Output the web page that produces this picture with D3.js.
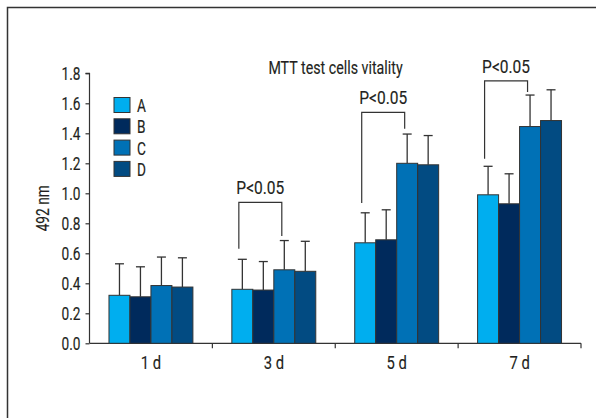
<!DOCTYPE html>
<html>
<head>
<meta charset="utf-8">
<script src="https://cdn.jsdelivr.net/npm/d3@7"></script>
<style>
  html, body { margin: 0; padding: 0; background: #fff; }
  svg text { font-family: Roboto, 'Open Sans', sans-serif; fill: #231f20; stroke: #231f20; stroke-width: 0.15px; }
</style>
</head>
<body>
<svg id="chart" width="596" height="418"></svg>
<script>
// MTT assay: optical density at 492 nm for four groups over 7 days
const days = ["1 d", "3 d", "5 d", "7 d"];
const groups = ["A", "B", "C", "D"];
const meanA = [0.32, 0.36, 0.67, 0.99];
const meanB = [0.31, 0.355, 0.69, 0.93];
const meanC = [0.385, 0.49, 1.20, 1.445];
const meanD = [0.375, 0.48, 1.19, 1.485];
const sdA = [0.21, 0.20, 0.20, 0.19];
const sdB = [0.20, 0.19, 0.20, 0.20];
const sdC = [0.19, 0.195, 0.195, 0.21];
const sdD = [0.195, 0.20, 0.195, 0.205];
const yTicks = [0, 0.2, 0.4, 0.6, 0.8, 1.0, 1.2, 1.4, 1.6, 1.8];
// significance brackets between A and C (day, top, left foot, right foot)
const sigDays = ["3 d", "5 d", "7 d"];
const sigTop = [0.94, 1.54, 1.75];
const sigLeftEnd = [0.63, 0.935, 1.23];
const sigRightEnd = [0.715, 1.43, 1.675];
const sigLabel = "P<0.05";

const colors = ["#00aeef", "#002a5c", "#0071b6", "#024b82"];
const means = [meanA, meanB, meanC, meanD];
const sds = [sdA, sdB, sdC, sdD];

const svg = d3.select("#chart");
const ink = "#333";
const FS = 18.5;
const SX = 0.74;

// narrow the glyphs horizontally, keeping the anchor point in place
function condense(sel, sx = SX) {
  sel.each(function () {
    const t = d3.select(this);
    const px = +t.attr("x") || 0, py = +t.attr("y") || 0;
    const prev = t.attr("transform") || "";
    t.attr("x", 0).attr("y", 0)
      .attr("transform", `${prev} translate(${px},${py}) scale(${sx},1)`);
  });
}

// frame
svg.append("path")
  .attr("d", "M7.5,418V7.5H596")
  .attr("fill", "none").attr("stroke", ink).attr("stroke-width", 1.5);

const x0 = 89.5, x1 = 581, yBase = 343.3, yTop = 73.3;
const x = d3.scaleBand().domain(days).range([x0, x1]).paddingInner(0.317).paddingOuter(0.1585);
const xs = d3.scaleBand().domain(groups).range([0, x.bandwidth()]);
const y = d3.scaleLinear().domain([0, 1.8]).range([yBase, yTop]);

// y axis
const yAxis = svg.append("g").attr("transform", `translate(${x0},0)`)
  .call(d3.axisLeft(y).tickValues(yTicks).tickFormat(d3.format(".1f")).tickSize(4).tickPadding(5));
yAxis.selectAll("path, line").attr("stroke", ink).attr("stroke-width", 1.2);
yAxis.selectAll("text").attr("font-size", FS).attr("fill", "#231f20")
  .style("font-family", "Roboto, 'Open Sans', sans-serif")
  .attr("dy", null).attr("y", 6.5);
condense(yAxis.selectAll("text"));
yAxis.select(".domain").attr("d", `M-4,${yTop}H0V${yBase}`);

condense(svg.append("text")
  .attr("x", 0).attr("y", 0)
  .attr("transform", `translate(48.5,${(yBase + yTop) / 2}) rotate(-90)`)
  .attr("text-anchor", "middle").attr("font-size", FS)
  .text("492 nm"));

// x axis: line with ticks on category boundaries
svg.append("line").attr("x1", x0).attr("x2", x1).attr("y1", yBase).attr("y2", yBase)
  .attr("stroke", ink).attr("stroke-width", 1.2);
svg.selectAll(".xb").data(days).join("line")
  .attr("x1", d => x(d) - x.step() * x.paddingOuter() + x.step())
  .attr("x2", d => x(d) - x.step() * x.paddingOuter() + x.step())
  .attr("y1", yBase).attr("y2", yBase + 5)
  .attr("stroke", ink).attr("stroke-width", 1.2);
condense(svg.selectAll(".xl").data(days).join("text")
  .attr("x", d => x(d) + x.bandwidth() / 2)
  .attr("y", yBase + 25.5)
  .attr("text-anchor", "middle").attr("font-size", FS)
  .text(d => d), 0.8);

// bars
const cells = [];
groups.forEach((g, gi) => days.forEach((d, di) => {
  cells.push({ g, gi, d, v: means[gi][di], sd: sds[gi][di] });
}));

const errs = svg.append("g");
errs.selectAll("line.v").data(cells).join("line")
  .attr("x1", c => x(c.d) + xs(c.g) + xs.bandwidth() / 2)
  .attr("x2", c => x(c.d) + xs(c.g) + xs.bandwidth() / 2)
  .attr("y1", c => y(c.v)).attr("y2", c => y(c.v + c.sd))
  .attr("stroke", ink).attr("stroke-width", 1.3);
errs.selectAll("line.c").data(cells).join("line")
  .attr("x1", c => x(c.d) + xs(c.g) + xs.bandwidth() / 2 - 4.5)
  .attr("x2", c => x(c.d) + xs(c.g) + xs.bandwidth() / 2 + 4.5)
  .attr("y1", c => y(c.v + c.sd)).attr("y2", c => y(c.v + c.sd))
  .attr("stroke", ink).attr("stroke-width", 1.3);

svg.append("g").selectAll("rect").data(cells).join("rect")
  .attr("x", c => x(c.d) + xs(c.g))
  .attr("width", xs.bandwidth())
  .attr("y", c => y(c.v))
  .attr("height", c => yBase - y(c.v))
  .attr("fill", c => colors[c.gi])
  .attr("stroke", ink).attr("stroke-width", 1);

// significance brackets
sigDays.forEach((d, i) => {
  const xl = x(d) + xs("A") + xs.bandwidth() / 2 - 3.5;
  const xr = x(d) + xs("C") + xs.bandwidth() / 2 - 2.5;
  svg.append("path")
    .attr("d", `M${xl},${y(sigLeftEnd[i])}V${y(sigTop[i])}H${xr}V${y(sigRightEnd[i])}`)
    .attr("fill", "none").attr("stroke", ink).attr("stroke-width", 1.2);
  condense(svg.append("text")
    .attr("x", (xl + xr) / 2).attr("y", y(sigTop[i]) - 8)
    .attr("text-anchor", "middle").attr("font-size", FS)
    .text(sigLabel), 0.84);
});

// title
condense(svg.append("text").attr("x", 335.5).attr("y", 74)
  .attr("text-anchor", "middle").attr("font-size", 19)
  .text("MTT test cells vitality"), 0.75);

// legend
const leg = svg.append("g").attr("transform", "translate(114,97.5)");
groups.forEach((g, i) => {
  leg.append("rect").attr("x", 0).attr("y", i * 21.3).attr("width", 16).attr("height", 15)
    .attr("fill", colors[i]).attr("stroke", ink).attr("stroke-width", 1);
  condense(leg.append("text").attr("x", 23).attr("y", i * 21.3 + 14.5)
    .attr("font-size", FS).text(g));
});
</script>
</body>
</html>
